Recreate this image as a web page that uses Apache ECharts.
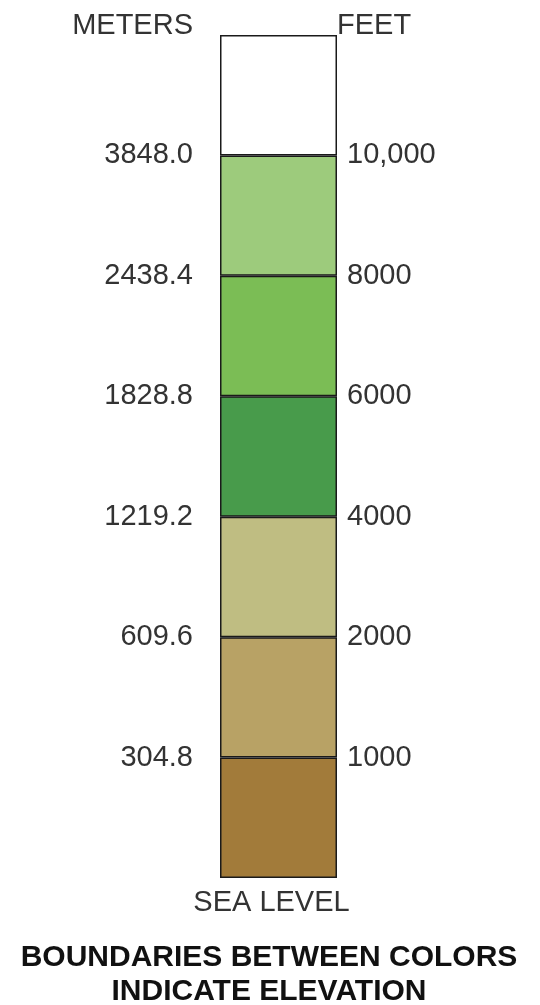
<!DOCTYPE html>
<html>
<head>
<meta charset="utf-8">
<script src="https://cdn.jsdelivr.net/npm/echarts@6/dist/echarts.min.js"></script>
<style>
  html, body { margin: 0; padding: 0; background: #fff; }
  #main { width: 540px; height: 1005px; }
</style>
</head>
<body>
<div id="main"></div>
<script>
// bands from sea level upward, each one step of the scale
var bandSteps = [1, 1, 1, 1, 1, 1, 1];
var bandColors = ['#a27b3a', '#b8a265', '#bfbd82', '#489b4b', '#7bbd55', '#9dcb7c', '#ffffff'];
// boundary labels, index = boundary number from the bottom
var meterLabels = ['', '304.8', '609.6', '1219.2', '1828.8', '2438.4', '3848.0', ''];
var feetLabels = ['', '1000', '2000', '4000', '6000', '8000', '10,000', ''];
var categories = ['SEA LEVEL'];

var font = '"Liberation Sans", Arial, sans-serif';
var myChart = echarts.init(document.getElementById('main'));

var series = bandSteps.map(function (v, i) {
  return {
    type: 'bar',
    stack: 'elev',
    barWidth: '100%',
    data: [v],
    silent: true,
    itemStyle: {
      color: bandColors[i],
      borderColor: '#1a1a1a',
      borderWidth: 1.5
    }
  };
});

var option = {
  animation: false,
  title: {
    text: 'BOUNDARIES BETWEEN COLORS\nINDICATE ELEVATION',
    left: 264,
    top: 936,
    textAlign: 'center',
    textStyle: {
      fontFamily: font,
      fontSize: 30,
      fontWeight: 'bold',
      color: '#111',
      lineHeight: 34
    }
  },
  grid: { left: 220, width: 117, top: 35, bottom: 127 },
  xAxis: {
    type: 'category',
    data: categories,
    axisLine: { show: false },
    axisTick: { show: false },
    axisLabel: { margin: 10, fontFamily: font, fontSize: 29, color: '#333', padding: [0, 14, 0, 0] }
  },
  yAxis: [{
    type: 'value',
    position: 'left',
    min: 0, max: 7, interval: 1,
    name: 'METERS',
    nameLocation: 'end',
    nameGap: 9,
    nameTextStyle: { fontFamily: font, fontSize: 29, color: '#333', align: 'right', verticalAlign: 'middle', padding: [0, 27, 0, 0] },
    axisLine: { show: false },
    axisTick: { show: false },
    splitLine: { show: false },
    axisLabel: {
      margin: 27, fontFamily: font, fontSize: 29, color: '#333',
      formatter: function (v) { return meterLabels[v]; }
    }
  }, {
    type: 'value',
    position: 'right',
    min: 0, max: 7, interval: 1,
    name: 'FEET',
    nameLocation: 'end',
    nameGap: 9,
    nameTextStyle: { fontFamily: font, fontSize: 29, color: '#333', align: 'left', verticalAlign: 'middle', padding: [0, 0, 0, 0] },
    axisLine: { show: false },
    axisTick: { show: false },
    splitLine: { show: false },
    axisLabel: {
      margin: 10, fontFamily: font, fontSize: 29, color: '#333',
      formatter: function (v) { return feetLabels[v]; }
    }
  }],
  series: series
};
myChart.setOption(option);
</script>
</body>
</html>
